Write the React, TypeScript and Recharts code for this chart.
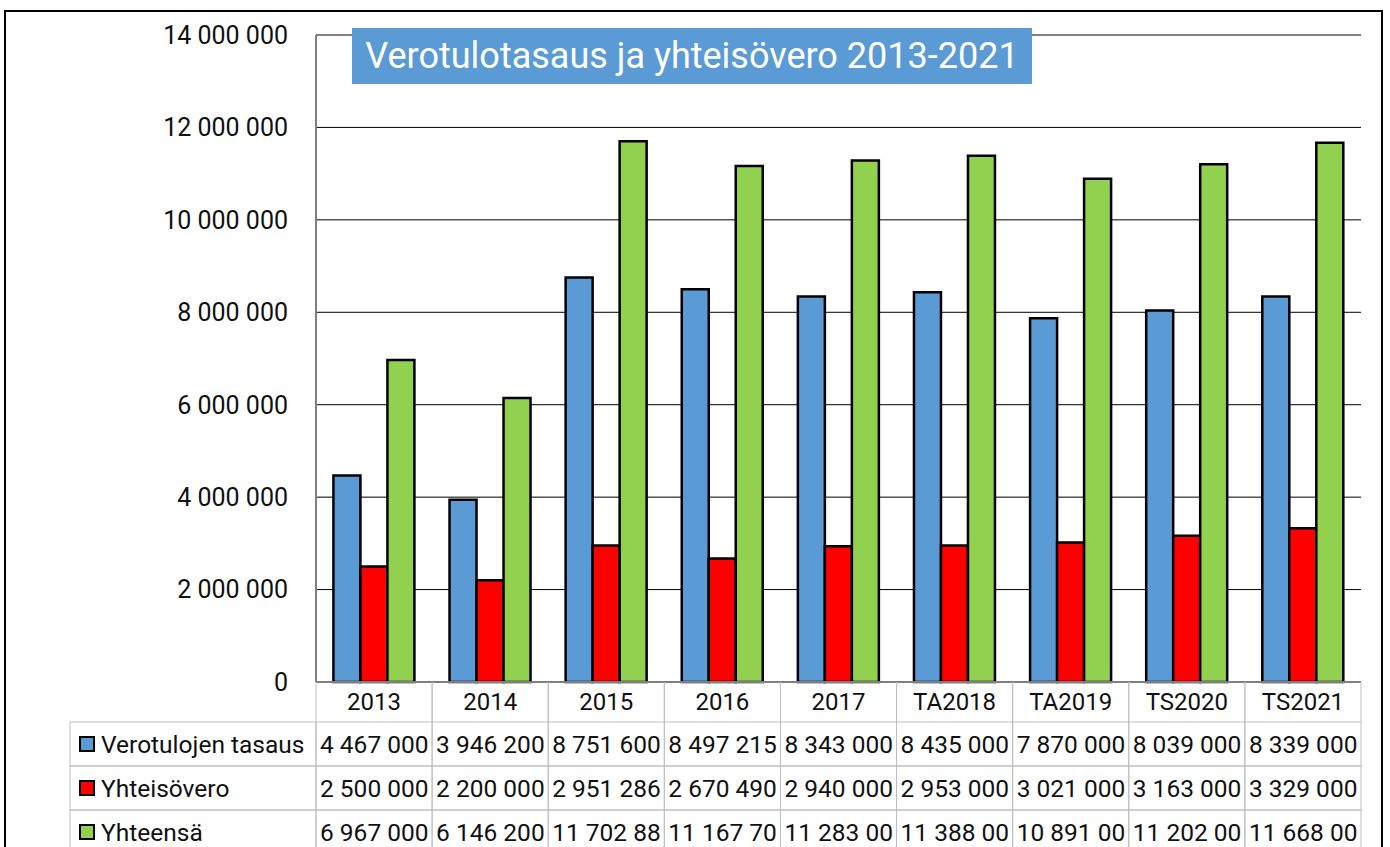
import { BarChart, Bar, XAxis, YAxis, CartesianGrid } from 'recharts';

const categories = ['2013', '2014', '2015', '2016', '2017', 'TA2018', 'TA2019', 'TS2020', 'TS2021'];
const verotulojenTasaus = [4467000, 3946200, 8751600, 8497215, 8343000, 8435000, 7870000, 8039000, 8339000];
const yhteisovero = [2500000, 2200000, 2951286, 2670490, 2940000, 2953000, 3021000, 3163000, 3329000];
const yhteensa = [6967000, 6146200, 11702886, 11167705, 11283000, 11388000, 10891000, 11202000, 11668000];
const yTicks = [0, 2000000, 4000000, 6000000, 8000000, 10000000, 12000000, 14000000];

const SERIES = [
  { key: 'tasaus', name: 'Verotulojen tasaus', values: verotulojenTasaus, color: '#5b9bd5' },
  { key: 'vero', name: 'Yhteisövero', values: yhteisovero, color: '#ff0000' },
  { key: 'yht', name: 'Yhteensä', values: yhteensa, color: '#92d050' },
];

const data = categories.map((c, i) => ({
  cat: c,
  tasaus: verotulojenTasaus[i],
  vero: yhteisovero[i],
  yht: yhteensa[i],
}));

const FONT = 'Roboto, "Open Sans", sans-serif';
const W = 1390;
const H = 847;
const PLOT_TOP = 35;
const PLOT_BOTTOM = 682;
const PLOT_LEFT = 316;
const PLOT_RIGHT = 1361;
const HEADER_H = 40;
const ROW_H = 44;
const TABLE_LEFT = 70;
const TABLE_LINE = '#bfbfbf';
const TXT = '#111';

// spaces as thousands separator, like the Finnish Excel original
const fmt = (v: number) => String(Math.round(v)).replace(/\B(?=(\d{3})+(?!\d))/g, ' ');
// Excel cuts the cell text that does not fit
const cellText = (v: number) => fmt(v).slice(0, 9);

function TableTick(props: any) {
  const { x, payload, index } = props;
  const half = payload && payload.offset ? payload.offset : (PLOT_RIGHT - PLOT_LEFT) / categories.length / 2;
  const left = x - half;
  const w = half * 2;
  const rowTop = PLOT_BOTTOM + HEADER_H;
  return (
    <g>
      <line x1={left} x2={left} y1={PLOT_BOTTOM} y2={rowTop} stroke={TABLE_LINE} />
      <line x1={left + w} x2={left + w} y1={PLOT_BOTTOM} y2={rowTop} stroke={TABLE_LINE} />
      <text x={x} y={PLOT_BOTTOM + HEADER_H / 2} textAnchor="middle" dominantBaseline="central"
        fontSize={24} fill={TXT} fontFamily={FONT}>
        {payload.value}
      </text>
      {SERIES.map((s, r) => (
        <g key={s.key}>
          <rect x={left} y={rowTop + r * ROW_H} width={w} height={ROW_H} fill="none" stroke={TABLE_LINE} />
          <text x={left + 4} y={rowTop + r * ROW_H + ROW_H / 2} dominantBaseline="central"
            fontSize={24.5} fill={TXT} fontFamily={FONT}>
            {cellText(s.values[index])}
          </text>
        </g>
      ))}
      {index === 0 && SERIES.map((s, r) => (
        <g key={'lbl' + s.key}>
          <rect x={TABLE_LEFT} y={rowTop + r * ROW_H} width={left - TABLE_LEFT} height={ROW_H}
            fill="none" stroke={TABLE_LINE} />
          <rect x={TABLE_LEFT + 10} y={rowTop + r * ROW_H + ROW_H / 2 - 7} width={14} height={14}
            fill={s.color} stroke="#000" strokeWidth={2} />
          <text x={TABLE_LEFT + 31} y={rowTop + r * ROW_H + ROW_H / 2} dominantBaseline="central"
            fontSize={24.5} fill={TXT} fontFamily={FONT}>
            {s.name}
          </text>
        </g>
      ))}
    </g>
  );
}

export default function App() {
  return (
    <div style={{ position: 'absolute', left: 0, top: 0, width: W, height: H, overflow: 'hidden', background: '#fff' }}>
      <div style={{
        position: 'absolute', left: 4, top: 10, width: 1375, height: 900,
        borderTop: '2px solid #000', borderLeft: '2px solid #000', borderRight: '2px solid #000',
      }} />
      <div style={{ position: 'absolute', left: 0, top: 0 }}>
        <BarChart
          width={W}
          height={H}
          data={data}
          margin={{ top: PLOT_TOP, right: W - PLOT_RIGHT, bottom: 0, left: 0 }}
          barCategoryGap="15%"
          barGap={0}
        >
          <CartesianGrid vertical={false} stroke="#000" strokeWidth={1} />
          <XAxis
            dataKey="cat"
            height={H - PLOT_BOTTOM}
            axisLine={{ stroke: '#7f7f7f', strokeWidth: 2 }}
            tickLine={false}
            tick={<TableTick />}
            interval={0}
          />
          <XAxis xAxisId="top" dataKey="cat" orientation="top" height={0} tick={false} tickLine={false}
            axisLine={{ stroke: '#8c8c8c', strokeWidth: 3 }} />
          <YAxis
            domain={[0, 14000000]}
            ticks={yTicks}
            width={PLOT_LEFT}
            tickSize={0}
            tickMargin={28}
            tickFormatter={fmt}
            tick={{ fontSize: 25, fill: TXT, fontFamily: FONT }}
            axisLine={{ stroke: '#7f7f7f', strokeWidth: 2 }}
            tickLine={false}
          />
          <YAxis yAxisId="right" orientation="right" width={0} tick={false} tickLine={false}
            axisLine={{ stroke: '#8c8c8c', strokeWidth: 3 }} />
          {SERIES.map((s) => (
            <Bar key={s.key} dataKey={s.key} name={s.name} fill={s.color} stroke="#000" strokeWidth={2.5}
              isAnimationActive={false} />
          ))}
        </BarChart>
      </div>
      <div style={{
        position: 'absolute', left: 352, top: 28, width: 680, height: 56, background: '#5b9bd5',
        color: '#fff', fontFamily: FONT, fontSize: 36, lineHeight: '56px', textAlign: 'center',
        whiteSpace: 'nowrap',
      }}>
        Verotulotasaus ja yhteisövero 2013-2021
      </div>
    </div>
  );
}
